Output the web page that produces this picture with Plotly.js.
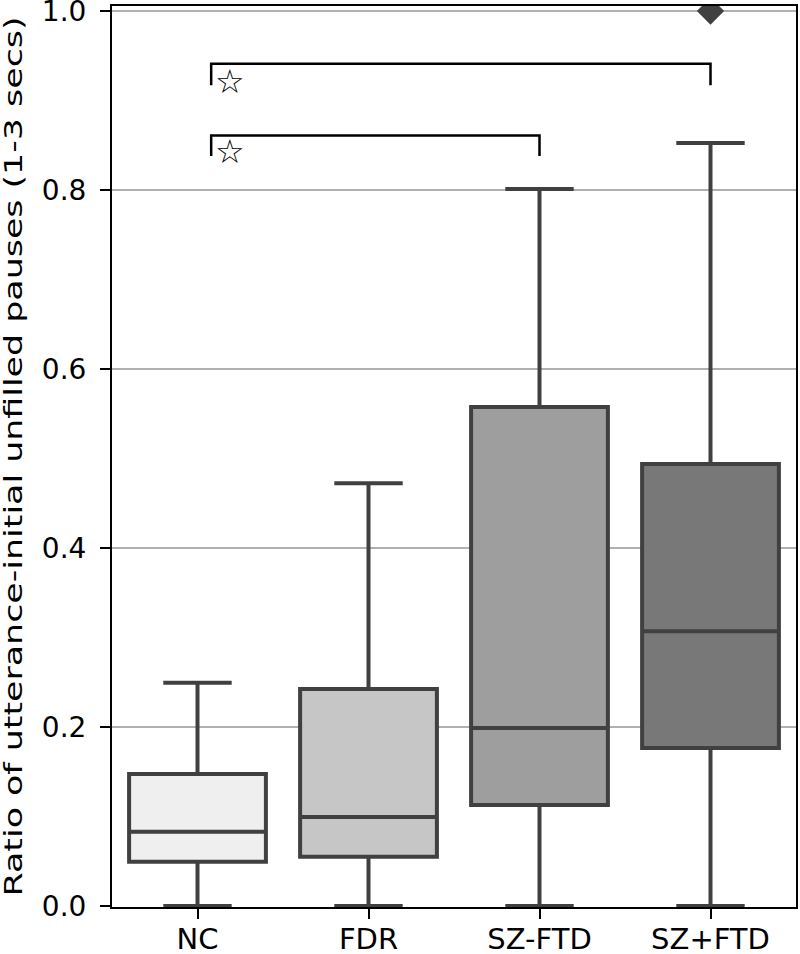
<!DOCTYPE html>
<html>
<head>
<meta charset="utf-8">
<script src="https://cdn.plot.ly/plotly-3.0.1.min.js"></script>
<style>html,body{margin:0;padding:0;background:#fff;}#chart{width:800px;height:954px;}</style>
</head>
<body>
<div id="chart"></div>
<script>
// ---- data ----
const categories = ['NC', 'FDR', 'SZ-FTD', 'SZ+FTD'];
const lowerWhisker = [0, 0, 0, 0];
const q1Values = [0.0495, 0.055, 0.113, 0.1765];
const medianValues = [0.083, 0.0995, 0.199, 0.307];
const q3Values = [0.1475, 0.2425, 0.5575, 0.494];
const upperWhisker = [0.2495, 0.4725, 0.801, 0.8525];
const outlierCategory = ['SZ+FTD'];
const outlierValues = [1.0];
const fillColors = ['#efefef', '#c6c6c6', '#9e9e9e', '#787878'];
const yTickValues = [0, 0.2, 0.4, 0.6, 0.8, 1.0];
const yTickLabels = ['0.0', '0.2', '0.4', '0.6', '0.8', '1.0'];
// significance brackets: [left x, right x, bar y, foot y]
const bracketLeft = [0.08, 0.08];
const bracketRight = [3.0, 2.0];
const bracketTop = [0.941, 0.861];
const bracketFoot = [0.917, 0.838];
const starX = [0.19, 0.19];
const starY = [0.921, 0.843];
const yTitle = 'Ratio of utterance-initial unfilled pauses (1-3 secs)';

const lineColor = '#404040';
const traces = categories.map((c, i) => ({
  type: 'box',
  x: [i],
  q1: [q1Values[i]],
  median: [medianValues[i]],
  q3: [q3Values[i]],
  lowerfence: [lowerWhisker[i]],
  upperfence: [upperWhisker[i]],
  width: 0.8,
  whiskerwidth: 0.5,
  fillcolor: fillColors[i],
  line: {color: lineColor, width: 4},
  boxpoints: false,
  hoverinfo: 'skip',
  showlegend: false
}));
traces.push({
  type: 'scatter',
  mode: 'markers',
  x: outlierCategory.map(c => categories.indexOf(c)),
  y: outlierValues,
  marker: {symbol: 'diamond', size: 21, color: lineColor, line: {width: 0}},
  cliponaxis: true,
  showlegend: false,
  hoverinfo: 'skip'
});

const shapes = [];
const annotations = [];
for (let i = 0; i < bracketLeft.length; i++) {
  shapes.push({
    type: 'path', xref: 'x', yref: 'y',
    path: `M ${bracketLeft[i]},${bracketFoot[i]} L ${bracketLeft[i]},${bracketTop[i]} L ${bracketRight[i]},${bracketTop[i]} L ${bracketRight[i]},${bracketFoot[i]}`,
    line: {color: '#000', width: 2.5}
  });
  annotations.push({
    x: starX[i], y: starY[i], xref: 'x', yref: 'y',
    text: '☆', showarrow: false,
    font: {family: 'DejaVu Sans', size: 33, color: '#000', weight: 'bold'},
    xanchor: 'center', yanchor: 'middle'
  });
}

const layout = {
  width: 800, height: 954,
  margin: {l: 112, r: 4, t: 6, b: 47},
  paper_bgcolor: '#fff', plot_bgcolor: '#fff',
  boxmode: 'overlay',
  font: {family: 'DejaVu Sans', color: '#000'},
  xaxis: {
    range: [-0.5, 3.5],
    tickmode: 'array',
    tickvals: categories.map((c, i) => i),
    ticktext: categories,
    showgrid: false, zeroline: false,
    showline: true, linecolor: '#000', linewidth: 2, mirror: true,
    ticks: 'outside', ticklen: 10, tickwidth: 2, tickcolor: '#000',
    tickfont: {family: 'DejaVu Sans', size: 29, color: '#000'},
    ticklabelstandoff: 0
  },
  yaxis: {
    range: [-0.0011, 1.0056],
    tickmode: 'array',
    tickvals: yTickValues,
    ticktext: yTickLabels,
    showgrid: true, gridcolor: '#b0b0b0', gridwidth: 2,
    zeroline: false,
    showline: true, linecolor: '#000', linewidth: 2, mirror: true,
    ticks: 'outside', ticklen: 10, tickwidth: 2, tickcolor: '#000',
    tickfont: {family: 'DejaVu Sans', size: 28, color: '#000'},
    ticklabelstandoff: 8,
    ticklabeloverflow: 'allow',
    title: {text: yTitle, font: {family: 'DejaVu Sans', size: 24, color: '#000'}, standoff: 0}
  },
  shapes: shapes,
  annotations: annotations
};

Plotly.newPlot('chart', traces, layout, {staticPlot: true}).then(() => {
  const t = document.querySelector('.ytitle');
  if (t) {
    t.setAttribute('textLength', '880');
    t.setAttribute('lengthAdjust', 'spacingAndGlyphs');
    const g = t.parentNode;
    if (g) g.setAttribute('transform', 'translate(-12,0)');
  }
  document.querySelectorAll('.xtick text').forEach(el => {
    const p = el.parentNode;
    p.setAttribute('transform', (p.getAttribute('transform') || '') + ' translate(0,-5)');
  });
});
</script>
</body>
</html>
